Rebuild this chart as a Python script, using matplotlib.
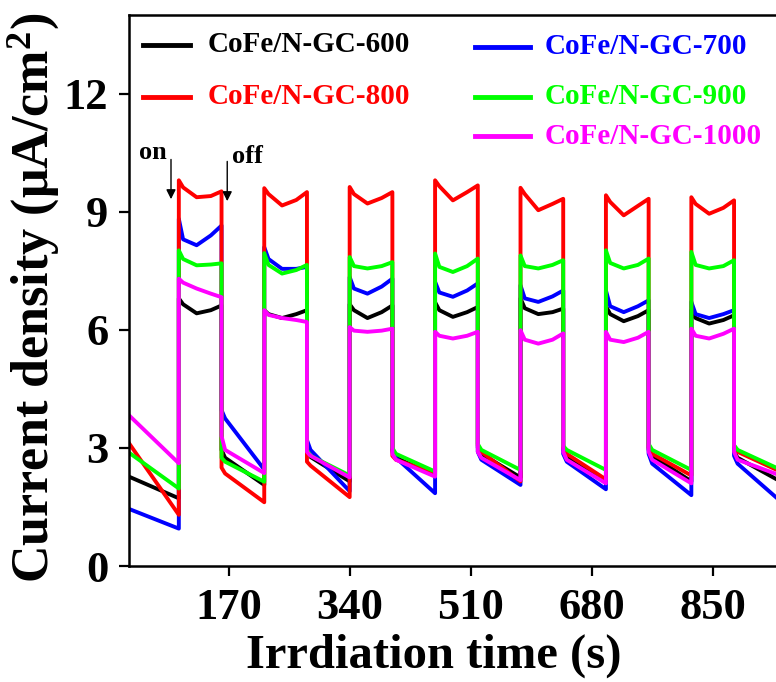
import numpy as np
import matplotlib
matplotlib.use('Agg')
import matplotlib.pyplot as plt
from matplotlib.lines import Line2D

plt.rcParams['font.family'] = 'Liberation Serif'
plt.rcParams['font.weight'] = 'bold'
plt.rcParams['mathtext.fontset'] = 'custom'
plt.rcParams['mathtext.rm'] = 'Liberation Serif:bold'
plt.rcParams['mathtext.it'] = 'Liberation Serif:bold'
plt.rcParams['mathtext.bf'] = 'Liberation Serif:bold'

# time stamps: start, then per cycle (on at t0, off at t0+60 s)
t_start = 30
t_end = 945
on_times = [100, 220, 340, 460, 580, 700, 820]
offsets = [0, 0, 6, 25, 45, 60, 60, 65]  # dark end, peak, ..., light end, drop, knee

time = [t_start]
for t0 in on_times:
    time += [t0 + o for o in offsets]
time.append(t_end)

labels = ['CoFe/N-GC-600', 'CoFe/N-GC-700', 'CoFe/N-GC-800',
          'CoFe/N-GC-900', 'CoFe/N-GC-1000']
colors = ['#000000', '#0000ff', '#ff0000', '#00ff00', '#ff00ff']

cofe_600 = [2.27,
            1.72, 6.80, 6.65, 6.42, 6.50, 6.62, 2.95, 2.75,
            2.06, 6.50, 6.40, 6.30, 6.40, 6.50, 2.95, 2.77,
            2.15, 6.65, 6.50, 6.30, 6.45, 6.62, 2.95, 2.75,
            2.30, 6.70, 6.50, 6.33, 6.45, 6.58, 3.00, 2.85,
            2.25, 6.80, 6.55, 6.40, 6.45, 6.54, 2.95, 2.80,
            2.15, 6.60, 6.40, 6.22, 6.35, 6.50, 2.95, 2.80,
            2.15, 6.50, 6.30, 6.16, 6.25, 6.37, 2.90, 2.75,
            2.15]
cofe_700 = [1.45,
            0.95, 8.82, 8.30, 8.15, 8.40, 8.65, 3.96, 3.75,
            2.45, 8.10, 7.80, 7.55, 7.55, 7.60, 3.20, 2.95,
            1.90, 7.34, 7.05, 6.92, 7.10, 7.30, 2.90, 2.75,
            1.85, 7.22, 6.95, 6.84, 7.00, 7.18, 2.90, 2.70,
            2.06, 7.13, 6.80, 6.71, 6.85, 7.00, 2.85, 2.65,
            1.95, 7.00, 6.60, 6.45, 6.60, 6.75, 2.85, 2.60,
            1.80, 6.71, 6.40, 6.30, 6.40, 6.50, 2.80, 2.60,
            1.65]
cofe_800 = [3.12,
            1.30, 9.80, 9.62, 9.37, 9.40, 9.52, 2.50, 2.35,
            1.62, 9.60, 9.45, 9.16, 9.30, 9.50, 2.65, 2.55,
            1.75, 9.63, 9.45, 9.21, 9.35, 9.50, 2.80, 2.70,
            2.35, 9.80, 9.65, 9.29, 9.50, 9.67, 3.05, 2.90,
            2.15, 9.61, 9.45, 9.04, 9.20, 9.33, 3.00, 2.85,
            2.20, 9.42, 9.25, 8.91, 9.15, 9.33, 3.00, 2.85,
            2.30, 9.37, 9.20, 8.95, 9.10, 9.29, 3.05, 2.90,
            2.40]
cofe_900 = [2.88,
            1.97, 8.02, 7.80, 7.64, 7.66, 7.69, 2.75, 2.65,
            2.14, 7.95, 7.65, 7.43, 7.52, 7.65, 2.95, 2.80,
            2.30, 7.85, 7.62, 7.56, 7.62, 7.72, 3.00, 2.85,
            2.40, 7.94, 7.60, 7.47, 7.62, 7.81, 3.10, 2.95,
            2.44, 7.89, 7.62, 7.56, 7.65, 7.77, 3.05, 2.95,
            2.44, 8.02, 7.70, 7.56, 7.65, 7.81, 3.10, 2.95,
            2.44, 7.98, 7.65, 7.56, 7.62, 7.77, 3.07, 2.95,
            2.45]
cofe_1000 = [3.83,
             2.61, 7.30, 7.20, 7.05, 6.92, 6.83, 3.30, 2.95,
             2.36, 6.50, 6.38, 6.30, 6.25, 6.20, 2.90, 2.80,
             2.25, 6.07, 5.98, 5.95, 5.98, 6.03, 2.85, 2.70,
             2.27, 5.95, 5.85, 5.78, 5.85, 5.95, 2.90, 2.75,
             2.18, 5.99, 5.75, 5.65, 5.75, 5.91, 2.90, 2.70,
             2.10, 5.95, 5.75, 5.69, 5.80, 5.95, 2.90, 2.70,
             2.10, 6.03, 5.85, 5.78, 5.90, 6.03, 2.90, 2.70,
             2.30]
series = [cofe_600, cofe_700, cofe_800, cofe_900, cofe_1000]

x_ticks = [170, 340, 510, 680, 850]
y_ticks = [0, 3, 6, 9, 12]

W, H = 776, 682
fig = plt.figure(figsize=(W / 100, H / 100), dpi=100)
ax = fig.add_axes([129 / W, 116 / H, 662 / W, 551 / H])

for vals, c in zip(series, colors):
    ax.plot(time, vals, color=c, lw=2.8, solid_joinstyle='round')

ax.set_xlim(30, 960)
ax.set_ylim(0, 14)
ax.set_xticks(x_ticks)
ax.set_yticks(y_ticks)
for s in ax.spines.values():
    s.set_linewidth(1.8)
ax.spines['right'].set_visible(False)
ax.tick_params(direction='out', length=7, width=1.6, labelsize=32)
ax.tick_params(axis='x', pad=9)
ax.tick_params(axis='y', pad=8)

ax.set_xlabel('Irrdiation time (s)', fontsize=35, fontweight='bold')
ax.set_ylabel('Current density (μA/cm$^2$)', fontsize=37.5, fontweight='bold')
ax.xaxis.set_label_coords(0.461, -0.122)
ax.yaxis.set_label_coords(-0.103, 0.486)

# on / off markers
ax.annotate('', xy=(89, 9.25), xytext=(89, 10.4),
            arrowprops=dict(arrowstyle='-|>', lw=1.0, color='black', mutation_scale=14))
ax.annotate('', xy=(168, 9.2), xytext=(168, 10.35),
            arrowprops=dict(arrowstyle='-|>', lw=1.0, color='black', mutation_scale=14))
ax.text(63, 10.5, 'on', fontsize=19, fontweight='bold', ha='center', va='center')
ax.text(197, 10.4, 'off', fontsize=19, fontweight='bold', ha='center', va='center')

# legend drawn by hand (two columns, uneven rows)
leg_pos = [(143, 190, 208, 45), (475, 530, 545, 47), (143, 190, 208, 97),
           (475, 530, 545, 97), (475, 530, 545, 136)]
for (x0, x1, xt, y), lab, c in zip(leg_pos, labels, colors):
    fig.add_artist(Line2D([x0 / W, x1 / W], [1 - y / H, 1 - y / H], color=c, lw=3.5))
    fig.text(xt / W, 1 - y / H, lab, color=c, fontsize=21, fontweight='bold', va='center')

fig.savefig('out.png', dpi=100)
